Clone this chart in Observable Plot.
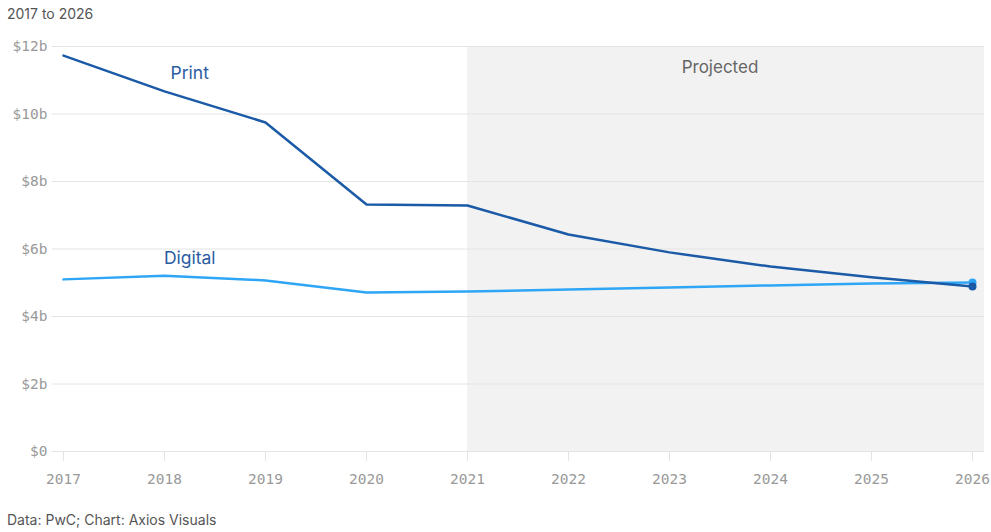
<!DOCTYPE html>
<html>
<head>
<meta charset="utf-8">
<script src="https://cdn.jsdelivr.net/npm/d3@7"></script>
<script src="https://cdn.jsdelivr.net/npm/@observablehq/plot@0.6"></script>
<style>
  html, body { margin: 0; padding: 0; background: #fff; }
  body { width: 991px; height: 532px; overflow: hidden; font-family: Inter, "Noto Sans", sans-serif; }
  #title { position: absolute; left: 7px; top: 5px; font-size: 14px; color: #555; }
  #chart { position: absolute; left: 0; top: 28px; }
  #caption { position: absolute; left: 7px; top: 511px; font-size: 14px; color: #555; }
</style>
</head>
<body>
<div id="title">2017 to 2026</div>
<div id="chart"></div>
<div id="caption">Data: PwC; Chart: Axios Visuals</div>
<script>
const years = [2017, 2018, 2019, 2020, 2021, 2022, 2023, 2024, 2025, 2026];
const printValues = [11.73, 10.67, 9.75, 7.32, 7.29, 6.43, 5.90, 5.48, 5.16, 4.89];
const digitalValues = [5.10, 5.21, 5.07, 4.71, 4.74, 4.80, 4.86, 4.92, 4.98, 5.01];
const yTicks = [0, 2, 4, 6, 8, 10, 12];
const yTickLabels = ["$0", "$2b", "$4b", "$6b", "$8b", "$10b", "$12b"];
const projectedStart = 2021;
const projectedEnd = 2026;
const seriesLabels = [
  {name: "Print", year: 2018.25, value: 11.2},
  {name: "Digital", year: 2018.25, value: 5.72}
];
const projectedLabel = {text: "Projected", year: 2023.5, value: 11.38};

const printData = years.map((y, i) => ({year: y, value: printValues[i]}));
const digitalData = years.map((y, i) => ({year: y, value: digitalValues[i]}));
const last = years.length - 1;
const monoFont = "DejaVu Sans Mono, Liberation Mono, monospace";

const chart = Plot.plot({
  width: 991,
  height: 480,
  marginLeft: 63,
  marginRight: 19,
  marginTop: 18,
  marginBottom: 57,
  style: {fontFamily: "Inter, sans-serif", background: "transparent"},
  x: {type: "linear", domain: [2017, 2026], axis: null},
  y: {type: "linear", domain: [0, 12], axis: null},
  marks: [
    Plot.rect([{x1: projectedStart, x2: projectedEnd, y1: 0, y2: 12}], {
      x1: "x1", x2: "x2", y1: "y1", y2: "y2", fill: "#f2f2f2", insetRight: -12
    }),
    Plot.ruleY(yTicks, {y: d => d, stroke: "#e4e4e4", strokeWidth: 1, insetLeft: -11, insetRight: -12}),
    Plot.axisY(yTicks, {
      tickSize: 0, tickPadding: 16, tickFormat: d => yTickLabels[yTicks.indexOf(d)],
      fontFamily: monoFont, fontSize: 14.5,
      fill: "#999", label: null
    }),
    Plot.axisX(years, {
      tickSize: 10, tickPadding: 12, stroke: "#e4e4e4", tickFormat: d => String(d),
      fontFamily: monoFont, fontSize: 14.5,
      fill: "#999", label: null
    }),
    Plot.line(digitalData, {x: "year", y: "value", stroke: "#2ea6f5", strokeWidth: 2.5}),
    Plot.line(printData, {x: "year", y: "value", stroke: "#1a5aa6", strokeWidth: 2.5}),
    Plot.dot([digitalData[last]], {x: "year", y: "value", r: 4, fill: "#2ea6f5"}),
    Plot.dot([printData[last]], {x: "year", y: "value", r: 4, fill: "#1a5aa6"}),
    Plot.text(seriesLabels, {x: "year", y: "value", text: "name", fill: "#2a5ba3", fontSize: 17.5}),
    Plot.text([projectedLabel], {x: "year", y: "value", text: "text", fill: "#666", fontSize: 17})
  ]
});
document.getElementById("chart").appendChild(chart);
</script>
</body>
</html>
